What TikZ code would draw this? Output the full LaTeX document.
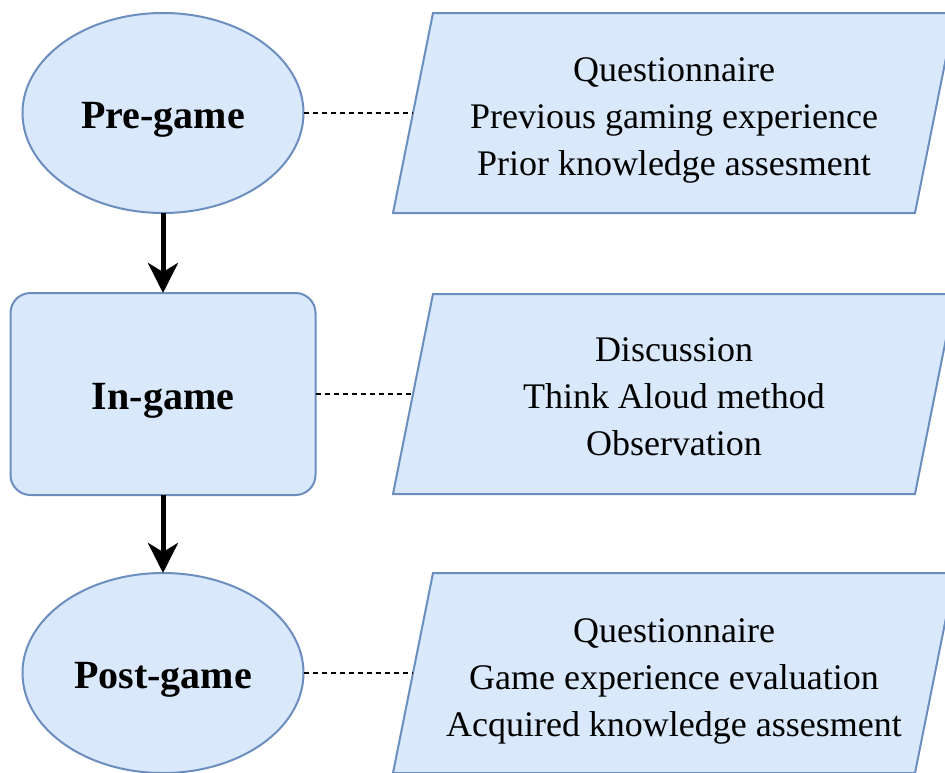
\documentclass[tikz,border=0pt]{standalone}
\usepackage{fontspec}
\setmainfont{Liberation Serif}
\usetikzlibrary{positioning, shapes.geometric, arrows.meta}

\definecolor{boxfill}{HTML}{DAE8FC}
\definecolor{boxline}{HTML}{6C8EBF}

\tikzset{
  stage/.style={draw=boxline, fill=boxfill, line width=2pt, inner sep=0pt, outer sep=0pt,
    text height=30pt, text depth=0pt, font=\fontsize{40}{46}\selectfont\bfseries},
  phase/.style={stage, ellipse, minimum width=281pt, minimum height=200pt},
  block/.style={stage, rectangle, rounded corners=20pt, minimum width=305pt, minimum height=202pt},
  iobox/.style={draw=boxline, fill=boxfill, line width=2pt},
  info/.style={align=center, inner sep=0pt, font=\fontsize{36}{47}\selectfont},
  flow/.style={-{Stealth[length=30pt, width=30pt, inset=9pt]}, line width=5pt},
  link/.style={dash pattern=on 5pt off 4pt, line width=1.3pt},
}

\begin{document}
\begin{tikzpicture}[x=1pt, y=-1pt]
\useasboundingbox (0,0) rectangle (945,772);
\clip (0,0) rectangle (945,772);

% stages
\node[phase] (pre) at (163,113) {Pre-game};
\node[block, below=80pt of pre] (in) {In-game};
\node[phase, below=78pt of in] (post) {Post-game};

% data boxes
\draw[iobox] (433,13) -- (955,13) -- (915,213) -- (393,213) -- cycle;
\draw[iobox] (433,294) -- (955,294) -- (915,494) -- (393,494) -- cycle;
\draw[iobox] (433,573) -- (955,573) -- (915,773) -- (393,773) -- cycle;

\node[info] (preinfo) at (674,120) {Questionnaire\\Previous gaming experience\\Prior knowledge assesment};
\node[info] (ininfo) at (674,397) {Discussion\\Think Aloud method\\Observation};
\node[info] (postinfo) at (674,681) {Questionnaire\\Game experience evaluation\\Acquired knowledge assesment};

\coordinate (preport) at (413,113);
\coordinate (inport) at (413,394);
\coordinate (postport) at (413,673);

\draw[flow] (pre) -- (in);
\draw[flow] (in) -- (post);
\draw[link] (pre.east) -- (preport);
\draw[link] (in.east) -- (inport);
\draw[link] (post.east) -- (postport);
\end{tikzpicture}
\end{document}
